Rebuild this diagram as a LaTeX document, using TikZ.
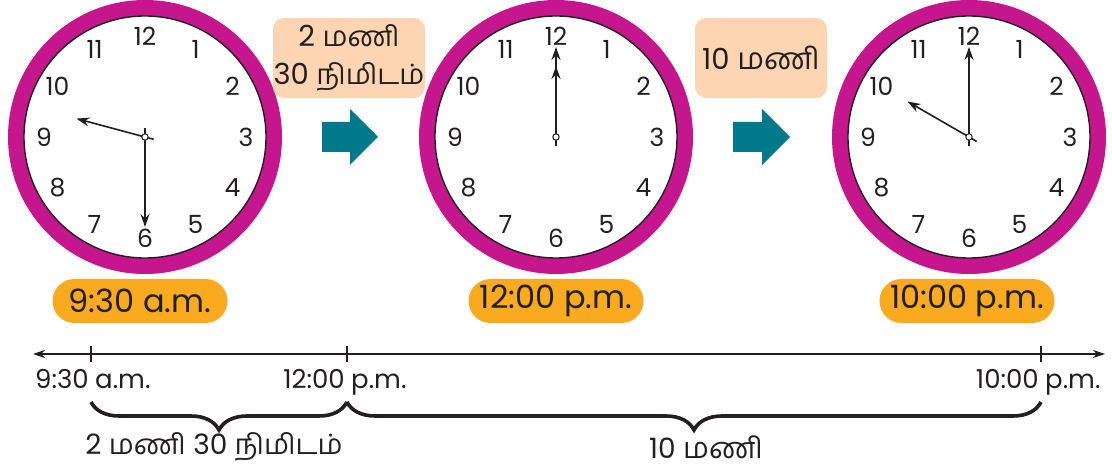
\documentclass[tikz,border=0pt]{standalone}
\usepackage{fontspec}
\setmainfont{Poppins}
\newfontfamily\tamil[Script=Tamil]{Hind Madurai}
\usetikzlibrary{
  arrows.meta,
  calc,
  decorations.pathreplacing
}
\definecolor{rim}{RGB}{198,22,141}
\definecolor{tagorange}{RGB}{249,170,30}
\definecolor{peach}{RGB}{253,213,178}
\definecolor{arrowteal}{RGB}{0,122,138}
\definecolor{ink}{RGB}{35,31,32}
% clock: name, centre, hour angle, minute angle
\newcommand{\clockface}[4]{%
  \coordinate (#1) at (#2);
  \fill[rim] (#1) circle (137);
  \draw[dial] (#1) circle (121);
  \foreach \n in {1,...,12}
    \node[clocknum] (#1-\n) at ($(#1)+({90-30*\n}:101)$) {\n};
  \draw[hand] ($(#1)+(#3+180:9)$) -- ($(#1)+(#3:71)$);
  \draw[hand] ($(#1)+(#4+180:9)$) -- ($(#1)+(#4:90)$);
  \filldraw[fill=white, draw=ink, line width=1] (#1) circle (3.2);
}
\newcommand{\ta}[2]{{\tamil\fontsize{#1}{#1}\selectfont #2}}

\begin{document}
\begin{tikzpicture}[x=1pt, y=1pt,
    dial/.style={fill=white, draw=ink, line width=1.4},
    clocknum/.style={font=\fontsize{25}{25}\selectfont, text=ink, inner sep=0},
    hand/.style={draw=ink, line width=1.6, -{Stealth[length=13pt,width=9pt]}},
    timetag/.style={fill=tagorange, rounded corners=22, minimum width=175, minimum height=44, inner sep=0, font=\fontsize{32}{32}\selectfont, text=ink},
    gapbox/.style={fill=peach, rounded corners=11, minimum height=80, inner sep=0, align=center, font=\fontsize{29}{38}\selectfont, text=ink},
    tlabel/.style={font=\fontsize{26}{26}\selectfont, text=ink, inner sep=0},
    spanlabel/.style={font=\fontsize{28}{28}\selectfont, text=ink, inner sep=0},
    bigbrace/.style={draw=ink, line width=3.6, decorate, decoration={brace, mirror, amplitude=28}}]
  \useasboundingbox (0,0) rectangle (1112,474);

  % Clocks
  \clockface{clkA}{145,337}{165}{-90}
  \clockface{clkB}{556,337}{90}{90}
  \clockface{clkC}{969,337}{150}{90}

  % Time tags
  \node[timetag] (tagA) at (140,173) {9:30 a.m.};
  \node[timetag] (tagB) at (556,173) {12:00 p.m.};
  \node[timetag] (tagC) at (967,173) {10:00 p.m.};

  % Elapsed time boxes
  \node[gapbox, minimum width=152] (gapA) at (349,416) {2 \ta{28}{மணி}\\30 \ta{28}{நிமிடம்}};
  \node[gapbox, minimum width=132] (gapB) at (761,416) {10 \ta{30}{மணி}};

  % Teal arrows
  \fill[arrowteal] (322,352) -- (350,352) -- (350,365) -- (378,337) -- (350,309) -- (350,322) -- (322,322) -- cycle;
  \fill[arrowteal] (733,352) -- (762,352) -- (762,365) -- (790,337) -- (762,309) -- (762,322) -- (733,322) -- cycle;

  % Time line
  \coordinate (lineL) at (33,120);
  \coordinate (lineR) at (1105,120);
  \coordinate (p1) at (91,120);
  \coordinate (p2) at (347,120);
  \coordinate (p3) at (1041,120);
  \draw[ink, line width=1.2, {Stealth[length=12pt,width=8pt]}-{Stealth[length=12pt,width=8pt]}] (lineL) -- (lineR);
  \foreach \p in {p1,p2,p3}
    \draw[ink, line width=1.2] ($(\p)+(0,8)$) -- ($(\p)+(0,-8)$);

  \node[tlabel, anchor=north east] (numA) at ($(p1)+(-2,-15)$) {9:30};
  \node[tlabel, anchor=base west] (unitA) at ($(numA.base east)+(6,0)$) {a.m.};
  \node[tlabel, anchor=north east] (numB) at ($(p2)+(-2,-15)$) {12:00};
  \node[tlabel, anchor=base west] (unitB) at ($(numB.base east)+(6,0)$) {p.m.};
  \node[tlabel, anchor=north east] (numC) at ($(p3)+(-2,-15)$) {10:00};
  \node[tlabel, anchor=base west] (unitC) at ($(numC.base east)+(6,0)$) {p.m.};

  % Braces
  \coordinate (b1) at ($(p1)+(0,-48)$);
  \coordinate (b2) at ($(p2)+(0,-48)$);
  \coordinate (b3) at ($(p3)+(0,-48)$);
  \draw[bigbrace] (b1) -- (b2);
  \draw[bigbrace] (b2) -- (b3);
  \node[spanlabel] (spanA) at (214,27) {2 \ta{28}{மணி} 30 \ta{28}{நிமிடம்}};
  \node[spanlabel] (spanB) at (706,27) {10 \ta{29}{மணி}};
\end{tikzpicture}
\end{document}
